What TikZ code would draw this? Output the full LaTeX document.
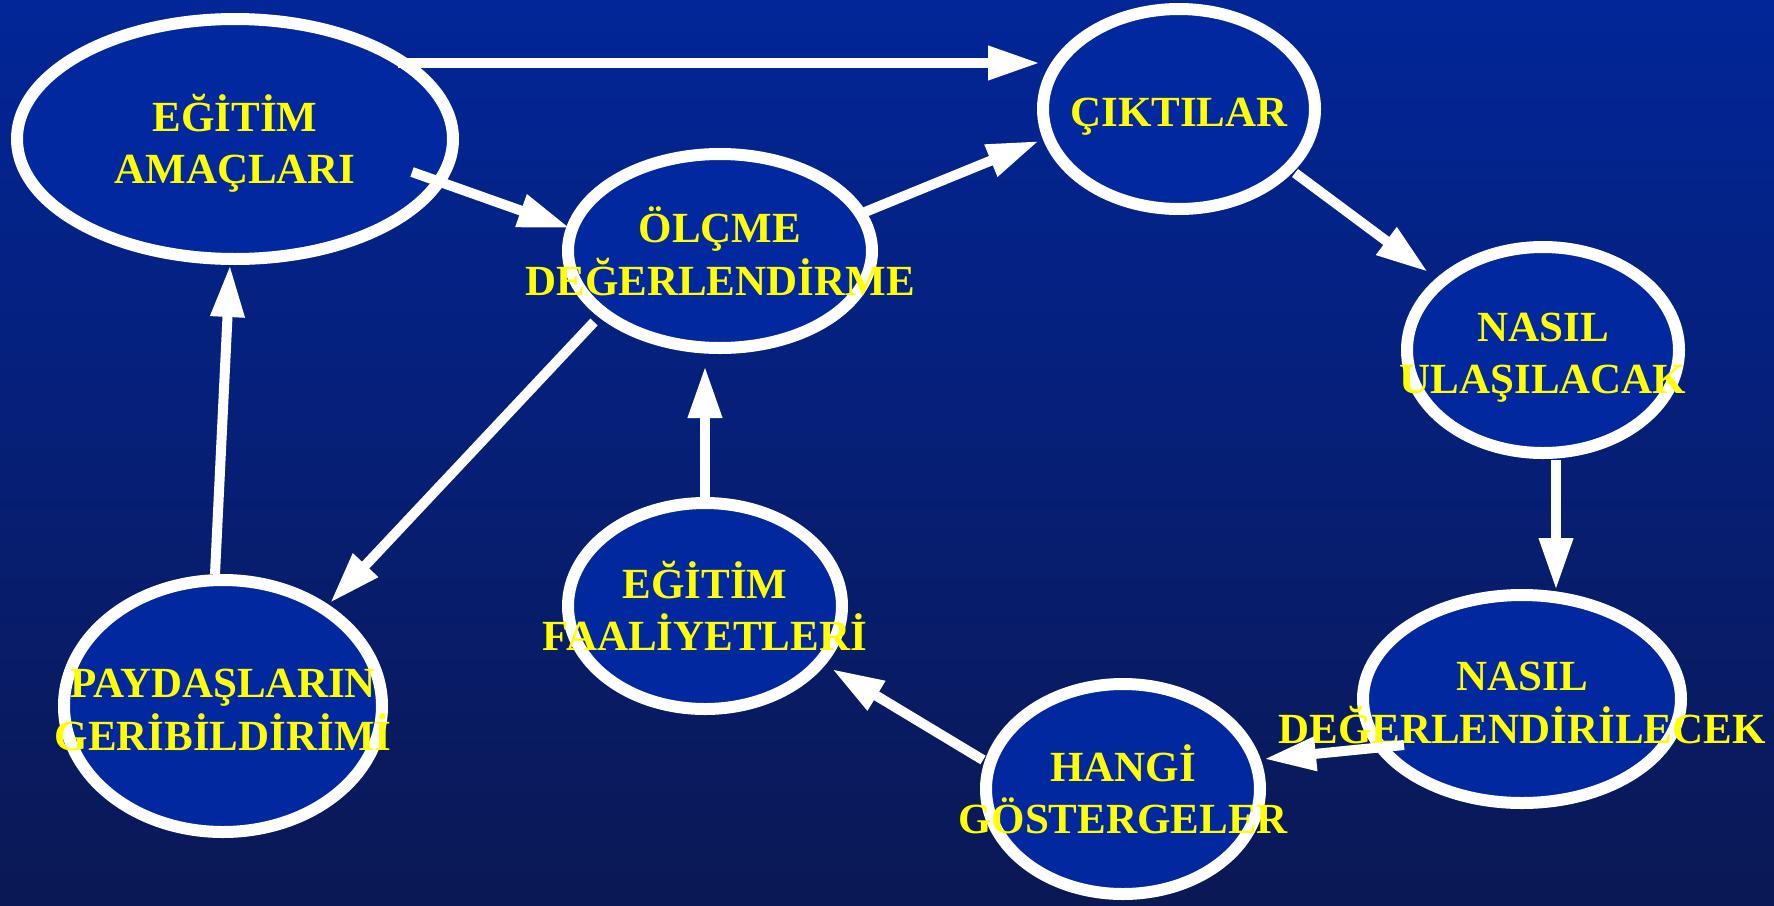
\documentclass[tikz,border=0pt]{standalone}
\usepackage{fontspec}
\setmainfont{Liberation Serif}
\usetikzlibrary{shapes.geometric,arrows.meta}

\definecolor{bgtop}{RGB}{2,38,152}
\definecolor{bgbot}{RGB}{10,24,84}
\definecolor{bubblefill}{RGB}{2,40,160}
\definecolor{textyellow}{RGB}{255,255,0}

% two-line (or one-line) centred caption with fixed strut spacing
\newcommand{\bubtext}[1]{\begin{tabular}{@{}c@{}}#1\end{tabular}}

\begin{document}
\begin{tikzpicture}[x=1pt,y=-1pt,
  bubble/.style={ellipse, draw=white, line width=12pt, fill=bubblefill,
                 inner sep=0pt, outer sep=0pt},
  caption/.style={text=textyellow, font=\fontsize{43}{52}\selectfont\bfseries,
                  inner sep=0pt, yshift=-7.5pt},
  flow/.style={draw=white, line width=10pt,
               -{Triangle[length=52pt,width=32pt]}}]

\useasboundingbox (0,0) rectangle (1774,905);
\shade[top color=bgtop, bottom color=bgbot] (0,0) rectangle (1774,905);

% bubbles
\node[bubble, minimum width=436pt, minimum height=240pt] (ea) at (235,139) {};
\node[bubble, minimum width=304pt, minimum height=194pt] (ol) at (720,251) {};
\node[bubble, minimum width=272pt, minimum height=200pt] (ck) at (1179,109) {};
\node[bubble, minimum width=272pt, minimum height=206pt] (nu) at (1543,350) {};
\node[bubble, minimum width=318pt, minimum height=208pt] (nd) at (1522,699) {};
\node[bubble, minimum width=274pt, minimum height=210pt] (hg) at (1123,789) {};
\node[bubble, minimum width=274pt, minimum height=206pt] (ef) at (705,606) {};
\node[bubble, minimum width=318pt, minimum height=252pt] (pg) at (223,706) {};

% captions
\node[caption] (ea-t) at (ea.center) {\bubtext{EĞİTİM\\AMAÇLARI}};
\node[caption] (ol-t) at (ol.center) {\bubtext{ÖLÇME\\DEĞERLENDİRME}};
\node[caption] (ck-t) at (ck.center) {\bubtext{ÇIKTILAR}};
\node[caption] (nu-t) at (nu.center) {\bubtext{NASIL\\ULAŞILACAK}};
\node[caption] (nd-t) at (nd.center) {\bubtext{NASIL\\DEĞERLENDİRİLECEK}};
\node[caption] (hg-t) at (hg.center) {\bubtext{HANGİ\\GÖSTERGELER}};
\node[caption] (ef-t) at (ef.center) {\bubtext{EĞİTİM\\FAALİYETLERİ}};
\node[caption] (pg-t) at (pg.center) {\bubtext{PAYDAŞLARIN\\GERİBİLDİRİMİ}};

% connectors
\draw[flow] ([shift={(163,-76)}]ea.center) -- ([shift={(-139,-46)}]ck.center);
\draw[flow] ([shift={(177,33)}]ea.center)  -- ([shift={(-150,-23)}]ol.center);
\draw[flow] ([shift={(145,-39)}]ol.center) -- ([shift={(-140,32)}]ck.center);
\draw[flow] ([shift={(116,64)}]ck.center)  -- ([shift={(-115,-78)}]nu.center);
\draw[flow] ([shift={(13,110)}]nu.center)  -- ([shift={(34,-109)}]nd.center);
\draw[flow] ([shift={(-118,46)}]nd.center) -- ([shift={(141,-30)}]hg.center);
\draw[flow] ([shift={(-140,-29)}]hg.center) -- ([shift={(127,63)}]ef.center);
\draw[flow] ([shift={(0,-109)}]ef.center)  -- ([shift={(-15,115)}]ol.center);
\draw[flow] ([shift={(-126,71)}]ol.center) -- ([shift={(107,-103)}]pg.center);
\draw[flow] ([shift={(-8,-132)}]pg.center) -- ([shift={(-5,126)}]ea.center);

\end{tikzpicture}
\end{document}
